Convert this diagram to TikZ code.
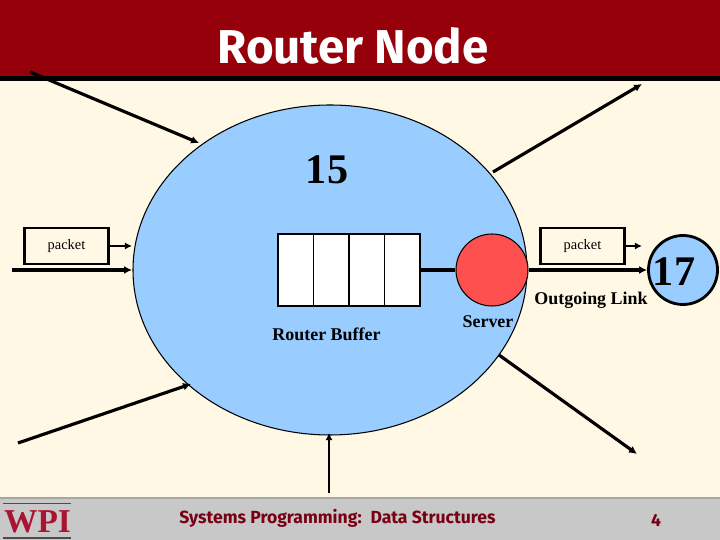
\documentclass[tikz,border=0pt]{standalone}
\usepackage{fontspec}
\setmainfont{Liberation Serif}
\newfontfamily\titlefont{Fira Sans}
\usetikzlibrary{shapes, arrows.meta, positioning, calc}
\definecolor{bandred}{RGB}{150,0,10}
\definecolor{paper}{RGB}{255,248,229}
\definecolor{nodeblue}{RGB}{153,204,255}
\definecolor{serverred}{RGB}{255,80,80}
\definecolor{footgray}{RGB}{200,200,200}
\definecolor{footred}{RGB}{120,0,20}
\definecolor{logored}{RGB}{170,20,50}
\tikzset{
    flow/.style={-{Latex[length=4.5pt,width=4.5pt]}, line width=1.8pt},
    smallflow/.style={-{Latex[length=4pt,width=4pt]}, line width=1.2pt},
    packetbox/.style={draw, line width=1.6pt, minimum width=1.68cm, minimum height=0.72cm, inner sep=0pt, font=\fontsize{8.2}{10}\selectfont},
    slot/.style={draw, fill=white, line width=0.6pt, minimum width=0.71cm, minimum height=1.44cm, inner sep=0pt, outer sep=0pt},
    caption/.style={font=\fontsize{10.2}{12}\selectfont\bfseries, inner sep=0pt},
    foottext/.style={font=\titlefont\fontsize{10}{12}\selectfont\bfseries, text=footred, inner sep=0pt}
}
\begin{document}
\begin{tikzpicture}
    \useasboundingbox (0,0) rectangle (14.4,10.8);
    % background
    \fill[paper] (0,0) rectangle (14.4,10.8);
    \fill[bandred] (0,9.28) rectangle (14.4,10.8);
    \fill[black] (0,9.18) rectangle (14.4,9.28);
    \fill[footgray] (0,0) rectangle (14.4,0.82);
    \fill[gray!70] (0,0.82) rectangle (14.4,0.86);
    \node (title) [anchor=base, text=white, inner sep=0pt, font=\titlefont\fontsize{27}{30}\selectfont\bfseries] at (7.06,9.52) {Router Node};

    % router
    \node (router) [draw, ellipse, fill=nodeblue, line width=0.6pt, minimum width=7.88cm, minimum height=6.6cm, inner sep=0pt] at (6.6,5.4) {};
    \node (id) [inner sep=0pt, font=\fontsize{24}{28}\selectfont\bfseries] at (6.54,7.4) {15};

    % buffer
    \node (slotA) [slot] at (5.915,5.4) {};
    \node (slotB) [slot, right=0pt of slotA] {};
    \node (slotC) [slot, right=0pt of slotB] {};
    \node (slotD) [slot, right=0pt of slotC] {};
    \node (server) [draw, circle, fill=serverred, line width=0.6pt, minimum size=1.44cm, inner sep=0pt] at (9.84,5.4) {};
    \draw[line width=1.8pt] (slotD) -- (server);
    \node (bufferlabel) [caption] at (6.53,4.12) {Router Buffer};
    \node (serverlabel) [caption] at (9.76,4.36) {Server};

    % packets
    \node (packetIn) [packetbox] at (1.33,5.88) {packet};
    \node (packetOut) [packetbox] at (11.65,5.88) {packet};
    \coordinate (packetInEnd) at (2.64,5.88);
    \coordinate (packetOutEnd) at (12.84,5.88);
    \draw[smallflow] (packetIn) -- (packetInEnd);
    \draw[smallflow] (packetOut) -- (packetOutEnd);

    % outgoing link
    \node (next) [draw, circle, fill=nodeblue, line width=1.6pt, minimum size=1.38cm, inner sep=0pt] at (13.66,5.4) {};
    \node (nextlabel) [inner sep=0pt, font=\fontsize{24}{28}\selectfont\bfseries] at (13.48,5.36) {17};
    \draw[flow] (server) -- (next);
    \node (linklabel) [caption] at (11.82,4.8) {Outgoing Link};

    % other links
    \coordinate (inA) at (0.6,9.36);
    \coordinate (inAend) at (3.98,7.94);
    \coordinate (inB) at (0.24,5.4);
    \coordinate (inBend) at (2.64,5.4);
    \coordinate (inC) at (0.36,1.94);
    \coordinate (inCend) at (3.82,3.12);
    \coordinate (inD) at (6.58,0.94);
    \coordinate (inDend) at (6.58,2.14);
    \coordinate (outA) at (9.86,7.36);
    \coordinate (outAend) at (12.84,9.12);
    \coordinate (outB) at (9.98,3.7);
    \coordinate (outBend) at (12.74,1.72);
    \draw[flow] (inA) -- (inAend);
    \draw[flow] (inB) -- (inBend);
    \draw[flow] (inC) -- (inCend);
    \draw[smallflow] (inD) -- (inDend);
    \draw[flow] (outA) -- (outAend);
    \draw[flow] (outB) -- (outBend);

    % footer
    \node (logo) [anchor=base, inner sep=0pt, text=logored, font=\fontsize{19}{24}\selectfont\bfseries] at (0.75,0.14) {WPI};
    \draw[line width=0.5pt, black!70] (0.06,0.74) -- (1.42,0.74);
    \draw[line width=0.8pt, black!70] (0.06,0.04) -- (1.42,0.04);
    \node (foot) [foottext] at (6.75,0.44) {Systems Programming:\hspace{0.5em}Data Structures};
    \node (page) [foottext] at (13.12,0.4) {4};
\end{tikzpicture}
\end{document}
